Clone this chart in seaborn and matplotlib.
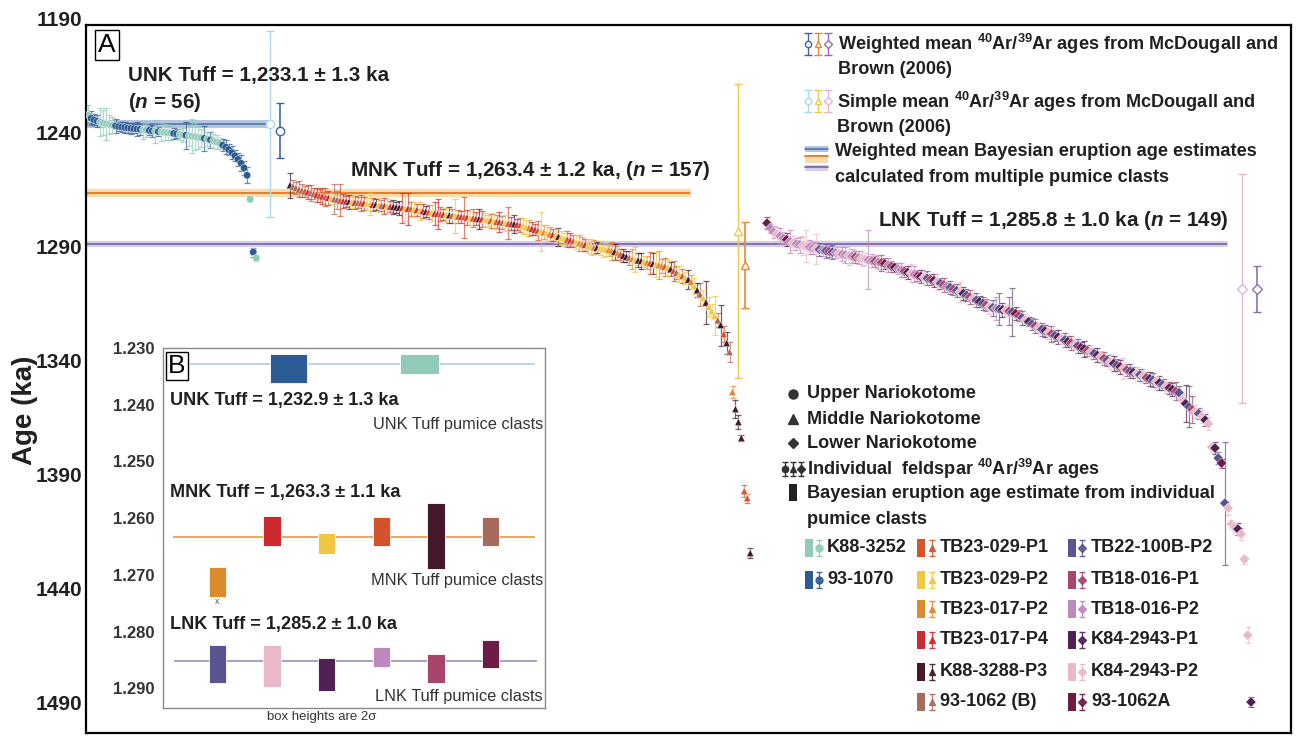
import numpy as np
import pandas as pd
import matplotlib
matplotlib.use('Agg')
import matplotlib.pyplot as plt
import matplotlib.transforms as mtransforms
from matplotlib.patches import Rectangle
from matplotlib import font_manager
import seaborn as sns

# ---------------------------------------------------------------- data
SAMPLES = ['K88-3252', '93-1070', 'TB23-029-P1', 'TB23-029-P2', 'TB23-017-P2',
           'TB23-017-P4', 'K88-3288-P3', '93-1062 (B)', 'TB22-100B-P2',
           'TB18-016-P1', 'TB18-016-P2', 'K84-2943-P1', 'K84-2943-P2', '93-1062A']
SAMPLE_COLORS = ['#8FCBB8', '#2D5B95', '#D4532B', '#F1C640', '#DD8A2E',
                 '#CC2A2F', '#45192B', '#A86A5C', '#5A5490',
                 '#A9456C', '#BF88BD', '#512153', '#EAB8C8', '#6F1B48']
CODE = {'g': 'K88-3252', 'b': '93-1070', 'o': 'TB23-029-P1', 'y': 'TB23-029-P2',
        'a': 'TB23-017-P2', 'r': 'TB23-017-P4', 'k': 'K88-3288-P3', 'n': '93-1062 (B)',
        'p': 'TB22-100B-P2', 'm': 'TB18-016-P1', 'l': 'TB18-016-P2', 'd': 'K84-2943-P1',
        'q': 'K84-2943-P2', 'x': '93-1062A'}

TUFFS = ['UNK', 'MNK', 'LNK']
tuff_mean = [1233.1, 1263.4, 1285.8]
tuff_err = [1.3, 1.2, 1.0]
tuff_n = [56, 157, 149]

unk_age = [1229.1, 1230.5, 1231.2, 1231.8, 1232.2, 1232.6, 1233.0, 1233.3, 1233.6, 1233.9,
           1234.2, 1234.4, 1234.6, 1234.8, 1235.0, 1235.1, 1235.3, 1235.4, 1235.6, 1235.8,
           1235.9, 1236.1, 1236.2, 1236.4, 1236.5, 1236.7, 1236.9, 1237.0, 1237.2, 1237.4,
           1237.6, 1237.8, 1238.0, 1238.2, 1238.4, 1238.6, 1238.9, 1239.1, 1239.4, 1239.7,
           1240.0, 1240.4, 1240.9, 1241.5, 1242.3, 1243.2, 1244.3, 1245.6, 1247.0, 1248.6,
           1250.3, 1252.3, 1255.6, 1266.0, 1289.3, 1291.9]
unk_err = [4.5, 3.0, 2.5, 2.5, 6.0, 5.5, 7.0, 4.0, 3.5, 3.0,
           2.0, 2.0, 2.5, 2.0, 2.5, 2.0, 3.0, 2.5, 4.0, 3.0,
           2.0, 2.5, 5.0, 2.0, 4.0, 3.5, 3.0, 3.0, 2.5, 2.0,
           2.5, 3.0, 6.0, 4.5, 7.5, 6.0, 5.0, 4.0, 5.5, 3.0,
           3.5, 3.0, 3.0, 2.5, 2.5, 3.0, 2.5, 3.0, 2.5, 3.0,
           3.5, 3.0, 3.5, 1.5, 2.0, 1.5]
unk_code = ("gbbbgggggb" "bbbbbbbbgg" "bbgbggggbb" "ggbgggggbg" "bgggbbbbbb" "bbb" "gbg")

mnk_age = [1259.9, 1260.5, 1261.1, 1261.8, 1262.2, 1262.6, 1263.0, 1263.3, 1263.7, 1264.1,
           1264.5, 1264.8, 1265.1, 1265.4, 1265.7, 1266.0, 1266.3, 1266.6, 1266.9, 1267.0,
           1267.2, 1267.3, 1267.5, 1267.6, 1267.8, 1267.9, 1268.1, 1268.2, 1268.4, 1268.5,
           1268.7, 1268.8, 1269.0, 1269.1, 1269.3, 1269.4, 1269.6, 1269.8, 1269.9, 1270.1,
           1270.2, 1270.4, 1270.6, 1270.8, 1271.1, 1271.3, 1271.6, 1271.8, 1272.1, 1272.3,
           1272.5, 1272.6, 1272.8, 1272.9, 1273.1, 1273.3, 1273.4, 1273.6, 1273.8, 1273.9,
           1274.1, 1274.3, 1274.4, 1274.6, 1274.8, 1274.9, 1275.1, 1275.3, 1275.5, 1275.7,
           1275.9, 1276.1, 1276.3, 1276.5, 1276.7, 1276.8, 1277.0, 1277.2, 1277.4, 1277.8,
           1278.2, 1278.6, 1279.0, 1279.4, 1279.8, 1280.2, 1280.6, 1281.0, 1281.4, 1281.8,
           1282.2, 1282.5, 1282.9, 1283.3, 1283.7, 1284.1, 1284.5, 1284.9, 1285.3, 1285.7,
           1286.1, 1286.5, 1286.9, 1287.2, 1287.4, 1287.6, 1287.8, 1288.1, 1288.3, 1288.7,
           1289.2, 1289.7, 1290.3, 1290.8, 1291.3, 1291.8, 1292.3, 1292.6, 1292.9, 1293.2,
           1293.5, 1293.8, 1294.1, 1294.4, 1294.7, 1295.0, 1295.3, 1295.7, 1296.1, 1296.8,
           1297.6, 1298.3, 1299.1, 1299.8, 1300.6, 1301.3, 1302.4, 1304.2, 1306.0, 1307.8,
           1309.5, 1311.4, 1313.2, 1315.2, 1317.2, 1319.2, 1321.3, 1325.3, 1329.2, 1333.1,
           1350.7, 1358.2, 1363.9, 1370.9, 1394.2, 1397.3, 1421.4]
mnk_err = [5.5, 3.0, 2.5, 3.5, 3.0, 2.5, 3.0, 3.5, 2.5, 3.0,
           3.0, 3.5, 4.0, 3.0, 2.5, 6.5, 4.0, 7.0, 3.0, 2.5,
           3.0, 2.5, 3.0, 2.5, 3.5, 3.0, 2.5, 5.0, 3.0, 2.5,
           3.0, 2.5, 3.5, 3.0, 2.5, 3.0, 2.5, 3.0, 6.5, 5.5,
           7.0, 3.0, 3.5, 2.5, 4.0, 3.0, 2.5, 3.0, 3.5, 5.0,
           6.5, 3.0, 2.5, 3.0, 3.5, 3.0, 7.5, 3.0, 2.5, 9.0,
           3.5, 3.0, 4.0, 3.0, 4.5, 3.5, 3.0, 2.5, 3.0, 3.5,
           3.0, 4.5, 3.0, 3.5, 7.0, 3.0, 4.0, 2.5, 3.0, 3.5,
           3.0, 3.5, 3.0, 2.5, 4.0, 8.5, 3.0, 3.5, 3.0, 2.5,
           3.0, 4.0, 3.0, 2.5, 3.5, 3.0, 2.5, 3.0, 3.5, 3.0,
           2.5, 3.0, 3.5, 3.0, 2.5, 3.0, 3.5, 3.0, 2.5, 4.0,
           3.5, 3.0, 2.5, 3.0, 2.5, 3.0, 4.5, 5.5, 3.0, 3.5,
           2.5, 3.0, 5.0, 4.5, 5.5, 6.0, 3.0, 4.0, 3.5, 3.0,
           4.5, 3.0, 3.5, 3.0, 2.5, 4.0, 3.0, 3.5, 3.0, 5.0,
           3.5, 9.5, 4.0, 3.0, 8.5, 3.0, 9.0, 3.5, 5.0, 4.5,
           2.5, 4.0, 3.0, 1.5, 2.5, 2.0, 2.0]
mnk_code = ("knnonornnr" "ororynnorr" "kyrnoryyrk" "ynryrkkkry" "royryrkoyr"
            "roryknyoro" "ryorkryyoy" "ornyorkroy" "yarroyayar" "ykyyoroyaa"
            "ryyakyyyaa" "kaokknaykk" "yaokyaaoyk" "onyoykaykn" "ykyyynkokn" "akkkook")

lnk_age = [1276.6, 1278.8, 1280.5, 1281.4, 1282.3, 1283.1, 1283.8, 1284.6, 1285.3, 1285.7,
           1286.0, 1286.4, 1286.8, 1287.1, 1287.5, 1287.8, 1288.1, 1288.4, 1288.7, 1289.0,
           1289.3, 1289.6, 1289.9, 1290.2, 1290.5, 1290.8, 1291.1, 1291.4, 1291.7, 1292.1,
           1292.4, 1292.7, 1293.0, 1293.3, 1293.6, 1293.9, 1294.4, 1295.0, 1295.5, 1296.0,
           1296.6, 1297.1, 1297.7, 1298.2, 1298.6, 1299.1, 1299.5, 1300.0, 1300.4, 1300.8,
           1301.3, 1301.8, 1302.4, 1303.0, 1303.7, 1304.3, 1304.9, 1305.6, 1306.2, 1306.8,
           1307.5, 1308.2, 1309.0, 1309.7, 1310.4, 1311.1, 1311.8, 1312.6, 1313.3, 1313.7,
           1314.0, 1314.3, 1314.6, 1314.9, 1315.2, 1315.5, 1316.3, 1317.2, 1318.1, 1319.0,
           1319.9, 1320.8, 1321.7, 1322.5, 1323.2, 1323.9, 1324.6, 1325.2, 1325.9, 1326.6,
           1327.3, 1327.9, 1328.6, 1329.2, 1329.9, 1330.5, 1331.2, 1331.8, 1332.5, 1333.1,
           1333.8, 1334.6, 1335.3, 1336.0, 1336.8, 1337.5, 1338.2, 1338.9, 1339.6, 1340.3,
           1341.0, 1341.6, 1342.1, 1342.7, 1343.2, 1343.8, 1344.4, 1344.9, 1345.5, 1346.1,
           1346.7, 1347.5, 1348.2, 1348.9, 1349.6, 1350.4, 1351.0, 1354.0, 1355.8, 1357.2,
           1358.4, 1359.2, 1360.2, 1361.5, 1363.0, 1364.6,
           1374.9, 1375.3, 1379.7, 1381.9, 1399.5, 1401.7, 1408.7, 1410.0, 1410.9, 1413.1,
           1424.1, 1457.5, 1486.8]
lnk_err = [2.5, 2.0, 2.5, 3.0, 3.5, 2.5, 3.0, 5.0, 3.0, 2.5,
           3.5, 4.0, 7.0, 3.0, 2.5, 6.5, 3.0, 2.5, 3.0, 2.5,
           3.0, 2.5, 2.0, 3.0, 3.5, 4.0, 3.0, 2.5, 3.0, 3.5,
           2.5, 13.0, 3.0, 2.5, 3.0, 3.5, 2.5, 3.0, 2.5, 2.0,
           2.5, 3.0, 2.5, 3.0, 4.0, 3.5, 2.5, 3.0, 2.5, 3.0,
           2.5, 3.0, 3.5, 2.5, 3.0, 2.5, 3.0, 2.5, 3.0, 4.5,
           3.0, 2.5, 3.0, 2.5, 3.0, 2.5, 3.0, 2.5, 3.0, 3.5,
           5.0, 7.0, 3.0, 2.5, 6.0, 10.5, 3.0, 2.5, 3.0, 2.5,
           2.0, 2.5, 3.0, 2.5, 3.0, 2.5, 3.0, 3.5, 2.5, 3.0,
           2.5, 3.0, 2.5, 3.0, 2.5, 3.0, 2.5, 3.5, 2.5, 3.0,
           2.5, 3.0, 2.5, 3.0, 2.5, 3.0, 3.5, 2.5, 3.0, 4.5,
           2.5, 3.0, 2.5, 3.0, 2.5, 3.0, 2.5, 3.0, 3.0, 2.5,
           3.0, 2.5, 3.0, 2.5, 3.0, 4.0, 3.0, 2.5, 8.0, 9.0,
           6.0, 3.0, 2.5, 3.0, 2.5, 3.0, 2.0, 2.5, 2.5, 2.0,
           27.0, 3.0, 2.0, 2.0, 2.5, 2.5, 2.0, 3.5, 2.0]
lnk_code = ("xllqllxlql" "lqqllqplpm" "plqllqlmlq" "qllmlmxlmd" "llmdqlmdqp"
            "mdqpmlpmpq" "dpmqpdpmqp" "lpdqmpxmpq" "dpmqpdqmpd" "qpdmqpxdmq"
            "pdqmpqdpxq" "mpdqpqmdpq" "dpqxdmpqdp" "mqpqdq" "qdpxpqqqdqqqd")

# McDougall & Brown (2006) means
mcd_weighted_age = [1236.0, 1295.0, 1305.5]
mcd_weighted_err = [12.0, 18.9, 10.1]
mcd_simple_age = [1233.0, 1280.0, 1305.3]
mcd_simple_err = [40.8, 64.5, 50.3]

# Inset B: Bayesian eruption age estimates per pumice clast (centre, 2-sigma half height)
inset_mean = [1232.9, 1263.3, 1285.2]
inset_err = [1.3, 1.1, 1.0]
clast_unk = ['93-1070', 'K88-3252']
clast_unk_age = [1233.6, 1232.8]
clast_unk_hw = [2.5, 1.75]
clast_mnk = ['TB23-017-P2', 'TB23-017-P4', 'TB23-029-P2', 'TB23-029-P1', 'K88-3288-P3', '93-1062 (B)']
clast_mnk_age = [1271.3, 1262.3, 1264.4, 1262.4, 1263.2, 1262.4]
clast_mnk_hw = [2.65, 2.65, 1.85, 2.55, 5.8, 2.55]
clast_lnk = ['TB22-100B-P2', 'K84-2943-P2', 'K84-2943-P1', 'TB18-016-P2', 'TB18-016-P1', '93-1062A']
clast_lnk_age = [1285.7, 1286.1, 1287.6, 1284.5, 1286.5, 1284.0]
clast_lnk_hw = [3.35, 3.7, 2.9, 1.75, 2.6, 2.45]

# ---------------------------------------------------------------- style
sns.set_style('white')
names = {f.name for f in font_manager.fontManager.ttflist}
if 'Liberation Sans Narrow' in names:
    NARROW, NS = 'Liberation Sans Narrow', 1.0
else:
    NARROW, NS = 'Liberation Sans', 0.84
plt.rcParams['font.family'] = [NARROW, 'DejaVu Sans']
plt.rcParams['mathtext.fontset'] = 'custom'
plt.rcParams['mathtext.rm'] = NARROW
plt.rcParams['mathtext.bf'] = NARROW + ':bold'
plt.rcParams['mathtext.it'] = NARROW + ':italic:bold'
TXT = '#231F20'
pal = dict(zip(SAMPLES, SAMPLE_COLORS))

W, H = 1297, 736
fig = plt.figure(figsize=(W / 100, H / 100), dpi=100)


def px_rect(x0, y0, x1, y1):
    return [x0 / W, 1 - y1 / H, (x1 - x0) / W, (y1 - y0) / H]


# layout: x start and step (rank position) per tuff
X_START = {'UNK': 88, 'MNK': 290, 'LNK': 767}
X_STEP = {'UNK': 3.06, 'MNK': 2.95, 'LNK': 3.27}
MCD_X = {'UNK': (270, 280), 'MNK': (738, 745), 'LNK': (1242, 1257)}
LINE_END = {'UNK': 270, 'MNK': 690, 'LNK': 1227}
MARK = {'UNK': 'o', 'MNK': '^', 'LNK': 'D'}

frames = []
for t, ages, errs, codes in [('UNK', unk_age, unk_err, unk_code),
                             ('MNK', mnk_age, mnk_err, mnk_code),
                             ('LNK', lnk_age, lnk_err, lnk_code)]:
    n = len(ages)
    frames.append(pd.DataFrame({
        'x': X_START[t] + X_STEP[t] * np.arange(n),
        'age': ages, 'err': errs,
        'sample': [CODE[c] for c in codes], 'tuff': t}))
df = pd.concat(frames, ignore_index=True)

# ---------------------------------------------------------------- main axes
ax = fig.add_axes(px_rect(86, 25, 1291, 733))
ax.set_xlim(86, 1291)
ax.set_ylim(1500.4, 1189.6)

line_cols = ['#5A7FB5', '#E8751A', '#7E6AAE']
band_cols = ['#B3C5DE', '#F6DCB0', '#D8CEE8']
for i, t in enumerate(TUFFS):
    ax.fill_between([86, LINE_END[t]], tuff_mean[i] - tuff_err[i], tuff_mean[i] + tuff_err[i],
                    color=band_cols[i], lw=1.5, edgecolor=band_cols[i], zorder=1)
    ax.hlines(tuff_mean[i], 86, LINE_END[t], color=line_cols[i], lw=1.3, zorder=1.5)

for s, g in df.groupby('sample'):
    ax.errorbar(g['x'], g['age'], yerr=g['err'], fmt='none', ecolor=pal[s],
                elinewidth=0.9, capsize=2.2, capthick=0.9, alpha=0.7, zorder=2)

sns.scatterplot(data=df, x='x', y='age', hue='sample', palette=pal, style='tuff',
                markers=MARK, s=28, edgecolor='white', linewidth=0.3,
                legend=False, ax=ax, zorder=3)

w_cols = ['#3F62AE', '#E58A34', '#8E70B8']
s_cols = ['#A9D8F0', '#F3C94A', '#E4B5D3']
for i, t in enumerate(TUFFS):
    xs, xw = MCD_X[t]
    ms = 5 if MARK[t] == 'D' else 6
    ax.errorbar([xs], [mcd_simple_age[i]], yerr=[mcd_simple_err[i]], fmt=MARK[t], ms=ms,
                mfc='white', mec=s_cols[i], mew=1, ecolor=s_cols[i], elinewidth=1,
                capsize=3, zorder=2.5)
    ax.errorbar([xw], [mcd_weighted_age[i]], yerr=[mcd_weighted_err[i]], fmt=MARK[t], ms=ms,
                mfc='white', mec=w_cols[i], mew=1, ecolor=w_cols[i], elinewidth=1.2,
                capsize=3, zorder=2.5)

ax.set_xticks([])
ax.set_xlabel('')
ax.set_yticks([1190, 1240, 1290, 1340, 1390, 1440, 1490])
ax.tick_params(axis='y', length=0, pad=3, labelsize=15, labelcolor=TXT)
off = mtransforms.ScaledTranslation(0, 0.07, fig.dpi_scale_trans)
for lab in ax.get_yticklabels():
    lab.set_fontweight('bold')
    lab.set_fontfamily('Liberation Sans')
    lab.set_transform(lab.get_transform() + off)
ax.set_ylabel('Age (ka)', fontsize=20, fontweight='bold', family='Liberation Sans', color=TXT)
ax.yaxis.set_label_coords(-0.040, 0.456)
for sp in ax.spines.values():
    sp.set_visible(True)
    sp.set_color('black')
    sp.set_linewidth(1.6)

# ---------------------------------------------------------------- inset B
axi = fig.add_axes(px_rect(163, 348, 545, 708))
axi.set_xlim(0, 7)
axi.set_ylim(1293.46, 1230.08)
axi.set_xticks([])
iticks = [1230, 1240, 1250, 1260, 1270, 1280, 1290]
axi.set_yticks(iticks)
axi.set_yticklabels([f"{v / 1000:.3f}" for v in iticks])
axi.tick_params(axis='y', length=0, pad=6, labelsize=12, labelcolor='#333333')
for lab in axi.get_yticklabels():
    lab.set_fontweight('bold')
    lab.set_fontfamily('Liberation Sans')
for sp in axi.spines.values():
    sp.set_visible(True)
    sp.set_color('#8A8A8A')
    sp.set_linewidth(1.0)
inset_line_cols = ['#BED2E4', '#EFA45A', '#A7A0C6']
inset_line_x = [(0.49, 6.82), (0.18, 6.82), (0.2, 6.85)]
for i in range(3):
    axi.hlines(inset_mean[i], *inset_line_x[i], color=inset_line_cols[i], lw=1.4, zorder=1)
axi.bar([2.3, 4.7], [2 * h for h in clast_unk_hw],
        bottom=[a - h for a, h in zip(clast_unk_age, clast_unk_hw)],
        width=[0.68, 0.73], color=[pal[s] for s in clast_unk], edgecolor='white', lw=0.6, zorder=2)
pos6 = [1, 2, 3, 4, 5, 6]
for names_, ages_, hws_ in [(clast_mnk, clast_mnk_age, clast_mnk_hw),
                            (clast_lnk, clast_lnk_age, clast_lnk_hw)]:
    axi.bar(pos6, [2 * h for h in hws_], bottom=[a - h for a, h in zip(ages_, hws_)],
            width=0.32, color=[pal[s] for s in names_], edgecolor='white', lw=0.6, zorder=2)

# ---------------------------------------------------------------- overlay (annotations, legends)
ov = fig.add_axes([0, 0, 1, 1])
ov.set_xlim(0, W)
ov.set_ylim(H, 0)
ov.set_axis_off()
ov.patch.set_alpha(0)

BIG = 17.7 * NS
MID = 15.6 * NS

ov.text(107, 45, 'A', fontsize=19, family='Liberation Sans', ha='center', va='center', color='black',
        bbox=dict(boxstyle='square,pad=0.12', fc='white', ec='black', lw=1.0))
ov.text(128, 75, f"UNK Tuff = {tuff_mean[0]:,.1f} ± {tuff_err[0]} ka", fontsize=BIG,
        weight='bold', va='center', color=TXT)
ov.text(128, 103, rf"($\mathit{{n}}$ = {tuff_n[0]})", fontsize=BIG, weight='bold', va='center', color=TXT)
ov.text(350, 171, rf"MNK Tuff = {tuff_mean[1]:,.1f} ± {tuff_err[1]} ka, ($\mathit{{n}}$ = {tuff_n[1]})",
        fontsize=BIG, weight='bold', va='center', color=TXT)
ov.text(878, 220, rf"LNK Tuff = {tuff_mean[2]:,.1f} ± {tuff_err[2]} ka ($\mathit{{n}}$ = {tuff_n[2]})",
        fontsize=BIG, weight='bold', va='center', color=TXT)

# top-right legend
for k, (x, m) in enumerate(zip([808, 818, 828], ['o', '^', 'D'])):
    ms = 4 if m == 'D' else 4.5
    ov.errorbar([x], [44], yerr=[11], fmt=m, ms=ms, mfc='white', mec=w_cols[k], mew=1,
                ecolor=w_cols[k], elinewidth=1, capsize=3)
    ov.errorbar([x], [101], yerr=[11], fmt=m, ms=ms, mfc='white', mec=s_cols[k], mew=1,
                ecolor=s_cols[k], elinewidth=1, capsize=3)
for yl, yb, lc, bc in [(149, 149, line_cols[0], band_cols[0]),
                       (156, 160, line_cols[1], band_cols[1]),
                       (167, 168, line_cols[2], band_cols[2])]:
    ov.add_patch(Rectangle((805, yb - 3), 23, 6, color=bc, lw=0))
    ov.plot([805, 828], [yl, yl], color=lc, lw=1.3)
leg_kw = dict(fontsize=MID, weight='bold', va='center', color=TXT)
ov.text(838, 44, r"Weighted mean $^{\mathbf{40}}$Ar/$^{\mathbf{39}}$Ar ages from McDougall and", **leg_kw)
ov.text(838, 70, "Brown (2006)", **leg_kw)
ov.text(837, 102, r"Simple mean $^{\mathbf{40}}$Ar/$^{\mathbf{39}}$Ar ages from McDougall and", **leg_kw)
ov.text(837, 127, "Brown (2006)", **leg_kw)
ov.text(835, 152, "Weighted mean Bayesian eruption age estimates", **leg_kw)
ov.text(835, 177, "calculated from multiple pumice clasts", **leg_kw)

# lower legend: symbols
ov.plot([793], [394], 'o', ms=6.5, color='#333333')
ov.plot([793], [419], '^', ms=7, color='#333333')
ov.plot([793], [443], 'D', ms=5.5, color='#333333')
for x, m in zip([785, 793, 801], ['o', '^', 'D']):
    ov.errorbar([x], [469], yerr=[7], fmt=m, ms=4.5 if m != 'D' else 3.8, color='#333333',
                elinewidth=1, capsize=2.5)
ov.add_patch(Rectangle((789, 484), 8, 17, color='#222222', lw=0))
ov.text(807, 394, "Upper Nariokotome", **leg_kw)
ov.text(807, 419, "Middle Nariokotome", **leg_kw)
ov.text(807, 443, "Lower Nariokotome", **leg_kw)
ov.text(807, 469, r"Individual  feldspar $^{\mathbf{40}}$Ar/$^{\mathbf{39}}$Ar ages", **leg_kw)
ov.text(807, 493, "Bayesian eruption age estimate from individual", **leg_kw)
ov.text(807, 519, "pumice clasts", **leg_kw)

# lower legend: samples
rows_y = [548, 580, 609, 640, 672, 702]
cols = [(['K88-3252', '93-1070'], 'o', 805, 819, 827),
        (['TB23-029-P1', 'TB23-029-P2', 'TB23-017-P2', 'TB23-017-P4', 'K88-3288-P3', '93-1062 (B)'], '^', 917, 932, 940),
        (['TB22-100B-P2', 'TB18-016-P1', 'TB18-016-P2', 'K84-2943-P1', 'K84-2943-P2', '93-1062A'], 'D', 1068, 1082, 1091)]
for samples, m, xr, xm, xt in cols:
    for s, y in zip(samples, rows_y):
        ov.add_patch(Rectangle((xr, y - 9), 8, 18, color=pal[s], lw=0))
        ov.errorbar([xm], [y], yerr=[8], fmt=m, ms=5 if m != 'D' else 4, color=pal[s],
                    ecolor=pal[s], elinewidth=0.9, capsize=2.5, alpha=0.9)
        ov.text(xt, y, s, **leg_kw)

# inset annotations
ov.text(177, 366, 'B', fontsize=19, family='Liberation Sans', ha='center', va='center', color='black',
        bbox=dict(boxstyle='square,pad=0.08', fc='white', ec='black', lw=1.0))
for i, (t, yb, yc) in enumerate([('UNK', 400, 424), ('MNK', 493, 581), ('LNK', 624, 696)]):
    ov.text(170, yb, f"{t} Tuff = {inset_mean[i]:,.1f} ± {inset_err[i]} ka", fontsize=MID,
            weight='bold', va='center', color=TXT)
    ov.text(543, yc, f"{t} Tuff pumice clasts", fontsize=14 * NS, ha='right', va='center',
            color='#333333')
ov.text(217, 602, 'x', fontsize=6.5, family='Liberation Sans', ha='center', va='center', color='#555555')
ov.text(322, 717, 'box heights are 2σ', fontsize=9.5, family='Liberation Sans', ha='center',
        va='center', color='#333333')

fig.savefig('out.png', dpi=100)
